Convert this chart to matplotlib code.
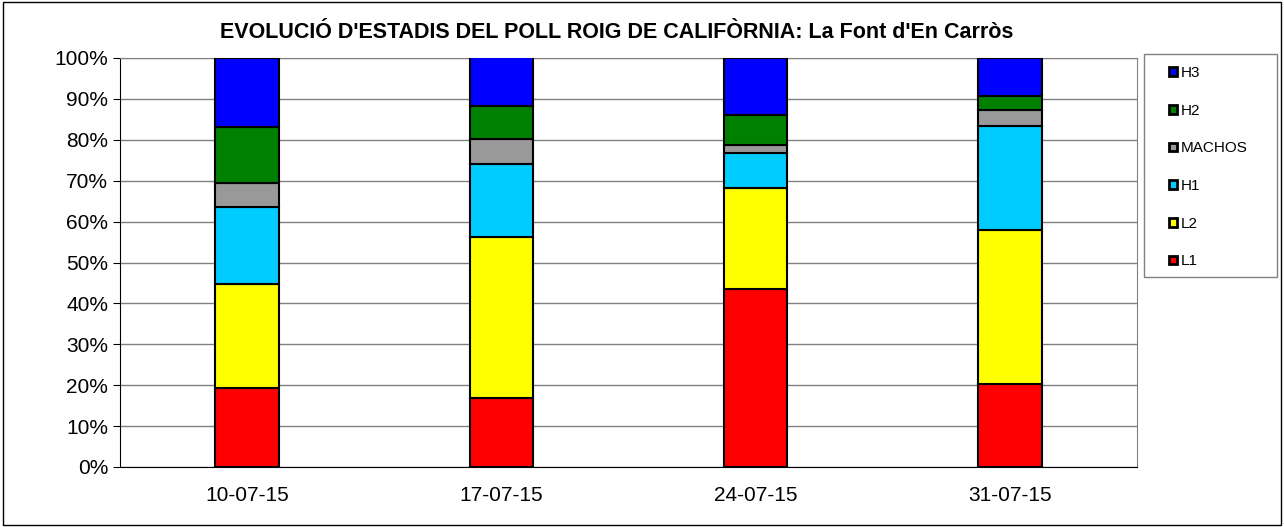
import numpy as np
import matplotlib.pyplot as plt
from matplotlib.patches import Rectangle
from matplotlib.ticker import PercentFormatter

plt.rcParams['font.family'] = ['Liberation Sans', 'DejaVu Sans']

# The data (percent of each stage per sampling date)
dates = ['10-07-15', '17-07-15', '24-07-15', '31-07-15']
L1 = [19.3, 16.8, 43.5, 20.3]
L2 = [25.5, 39.4, 24.6, 37.6]
H1 = [18.7, 18.0, 8.6, 25.5]
MACHOS = [5.9, 6.0, 2.0, 3.9]
H2 = [13.7, 8.0, 7.4, 3.4]
H3 = [16.9, 12.0, 13.9, 9.3]

stages = ['L1', 'L2', 'H1', 'MACHOS', 'H2', 'H3']
values = [L1, L2, H1, MACHOS, H2, H3]
colors = ['#ff0000', '#ffff00', '#00ccff', '#999999', '#008000', '#0000ff']

fig = plt.figure(figsize=(12.84, 5.27), dpi=100)
ax = fig.add_axes([120 / 1284, 60 / 527, 1017 / 1284, 409 / 527])

x = np.arange(len(dates))
bottom = np.zeros(len(dates))
for name, vals, c in zip(stages, values, colors):
    ax.bar(x, vals, 0.25, bottom=bottom, color=c, edgecolor='black',
           linewidth=1.5, label=name, zorder=3)
    bottom += np.array(vals)

# x,y range
ax.set_xlim(-0.5, 3.5)
ax.set_ylim(0, 100)
ax.set_yticks(np.arange(0, 101, 10))
ax.yaxis.set_major_formatter(PercentFormatter(decimals=0))
ax.set_xticks(x)
ax.set_xticklabels(dates)
ax.tick_params(axis='both', labelsize=15, color='black', length=5)
ax.tick_params(axis='x', length=0, pad=14)
ax.grid(axis='y', color='#808080', linewidth=1, zorder=0)

for side in ['top', 'right']:
    ax.spines[side].set_color('#808080')
for side in ['left', 'bottom']:
    ax.spines[side].set_color('black')

fig.text(617 / 1284, 1 - 33 / 527,
         "EVOLUCIÓ D'ESTADIS DEL POLL ROIG DE CALIFÒRNIA: La Font d'En Carròs",
         ha='center', va='center', fontsize=15.5, fontweight='bold')

# legend, H3 on top
handles = [plt.Rectangle((0, 0), 1, 1, facecolor=c, edgecolor='black', linewidth=2)
           for c in colors][::-1]
fig.legend(handles, stages[::-1], loc='upper left',
           bbox_to_anchor=(1169 / 1284, 1 - 66 / 527),
           fontsize=11, frameon=False,
           handlelength=0.5, handleheight=0.5, handletextpad=0.3,
           labelspacing=1.55, borderpad=0, borderaxespad=0)
fig.patches.append(Rectangle((1144 / 1284, 1 - 277 / 527), 133 / 1284, 223 / 527,
                             transform=fig.transFigure, fill=False,
                             edgecolor='#808080', linewidth=1))

# outer chart border
fig.patches.append(Rectangle((0.002, 0.003), 0.996, 0.994, transform=fig.transFigure,
                             fill=False, edgecolor='black', linewidth=1))

fig.savefig('out.png', dpi=100)
